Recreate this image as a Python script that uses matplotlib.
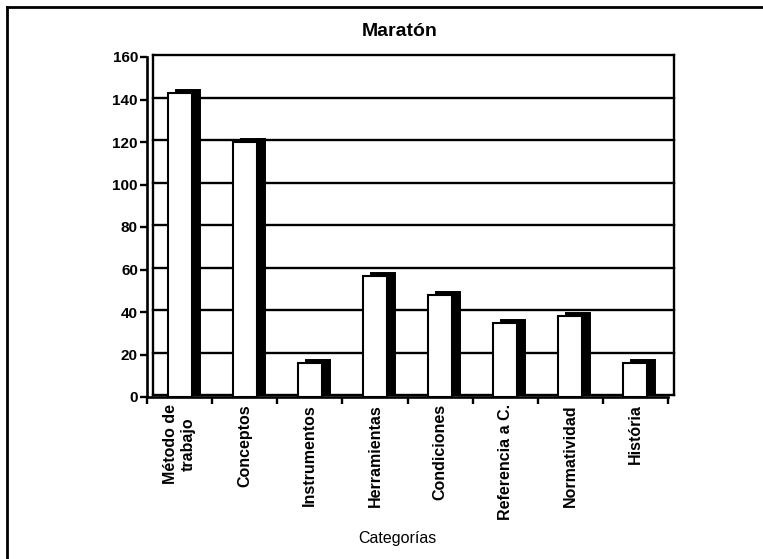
#!/usr/bin/env python3
"""
Bar chart of category counts for the 'Maratón' set, drawn with a
pseudo-3D look (dark extrusion on the bars, back wall with gridlines).
"""

import matplotlib
matplotlib.use('Agg')
import matplotlib.pyplot as plt
import matplotlib.transforms as mtransforms
from matplotlib.lines import Line2D

title = 'Maratón'
categories = ['Método de\ntrabajo', 'Conceptos', 'Instrumentos', 'Herramientas',
              'Condiciones', 'Referencia a C.', 'Normatividad', 'História']
counts = [143, 120, 16, 57, 48, 35, 38, 16]
y_ticks = [0, 20, 40, 60, 80, 100, 120, 140, 160]
x_label = 'Categorías'

plt.rcParams['font.family'] = ['Liberation Sans', 'DejaVu Sans']

W, H = 763, 559
fig = plt.figure(figsize=(W / 100, H / 100), dpi=100)
ax = fig.add_axes([147 / W, 1 - 397 / H, 521 / W, 340 / H])

n = len(categories)
centers = [i + 0.5 for i in range(n)]
ax.set_xlim(0, n)
ax.set_ylim(0, 160)

# back wall: shifted a few pixels up/right from the front plane
wall = mtransforms.offset_copy(ax.transData, fig=fig, x=6, y=2, units='dots')
for v in y_ticks[1:]:
    ax.plot([0, n], [v, v], color='black', lw=1.7, transform=wall,
            clip_on=False, zorder=1)
ax.plot([0, 0], [0, 160], color='black', lw=1.7, transform=wall,
        clip_on=False, zorder=1)
ax.plot([n, n], [0, 160], color='black', lw=1.7, transform=wall,
        clip_on=False, zorder=1)
ax.plot([0, n], [0, 0], color='black', lw=1.7, transform=wall,
        clip_on=False, zorder=1)

# bars: black extrusion behind, white front face on top
bar_w = 0.37
depth = mtransforms.offset_copy(ax.transData, fig=fig, x=8, y=3, units='dots')
ax.bar(centers, counts, width=bar_w, color='black', edgecolor='black',
       linewidth=1.4, transform=depth, zorder=2, clip_on=False)
ax.bar(centers, counts, width=bar_w, color='white', edgecolor='black',
       linewidth=1.5, zorder=3, clip_on=False)

# axes styling
for side in ['top', 'right']:
    ax.spines[side].set_visible(False)
for side in ['left', 'bottom']:
    ax.spines[side].set_linewidth(1.9)
    ax.spines[side].set_zorder(4)

ax.set_yticks(y_ticks)
ax.set_yticklabels([str(v) for v in y_ticks], fontsize=11, fontweight='bold')
ax.tick_params(axis='y', direction='out', length=5, width=1.7, pad=1.5)

ax.set_xticks(range(n + 1))
ax.set_xticklabels([])
ax.set_xticks(centers, minor=True)
ax.set_xticklabels(categories, minor=True, rotation=90, fontsize=11.5,
                   fontweight='bold', ha='center', va='top',
                   multialignment='center')
ax.tick_params(axis='x', which='major', direction='out', length=5, width=1.7)
ax.tick_params(axis='x', which='minor', length=0, pad=5)

ax.patch.set_visible(False)

fig.text(400 / W, 1 - 32 / H, title, ha='center', va='center',
         fontsize=14, fontweight='bold')
fig.text(397 / W, 1 - 538 / H, x_label, ha='center', va='center',
         fontsize=11.5)

# outer chart border (top and left edges are inside the frame)
fig.add_artist(Line2D([7 / W, 1.0], [1 - 7 / H, 1 - 7 / H],
                      transform=fig.transFigure, color='black', lw=2))
fig.add_artist(Line2D([7 / W, 7 / W], [0.0, 1 - 7 / H],
                      transform=fig.transFigure, color='black', lw=2))

fig.savefig('out.png', dpi=100)
print('saved out.png')
